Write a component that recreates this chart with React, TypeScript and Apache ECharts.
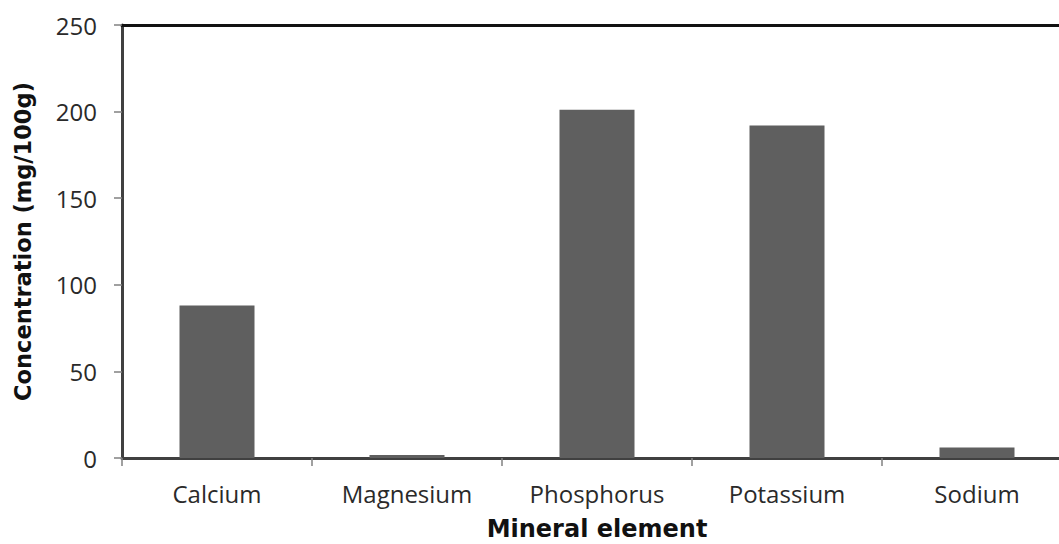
import React, { useEffect, useRef } from "react";
import * as echarts from "echarts";

const categories = ["Calcium", "Magnesium", "Phosphorus", "Potassium", "Sodium"];
const values = [88, 1.7, 201, 192, 6];
const yTicks = { min: 0, max: 250, interval: 50 };

const FONT = "'Open Sans', sans-serif";
const TITLE_FONT = "'DejaVu Sans', sans-serif";

export default function App() {
  const ref = useRef<HTMLDivElement>(null);
  useEffect(() => {
    if (!ref.current) return;
    const chart = echarts.init(ref.current, undefined, { renderer: "svg" });
    chart.setOption({
      animation: false,
      backgroundColor: "#ffffff",
      grid: { left: 122, top: 25, width: 950, height: 433 },
      xAxis: [
        {
          type: "category",
          data: categories,
          position: "bottom",
          axisLine: { lineStyle: { color: "#404040", width: 3 } },
          axisTick: { show: true, alignWithLabel: false, length: 8, lineStyle: { color: "#808080", width: 1.5 } },
          axisLabel: { color: "#2a2a2a", fontSize: 24, fontFamily: FONT, margin: 23 },
        },
        {
          type: "category",
          data: categories,
          position: "top",
          axisLine: { lineStyle: { color: "#111111", width: 3 } },
          axisTick: { show: false },
          axisLabel: { show: false },
        },
      ],
      yAxis: {
        type: "value",
        min: yTicks.min,
        max: yTicks.max,
        interval: yTicks.interval,
        name: "Concentration (mg/100g)",
        nameLocation: "middle",
        nameGap: 88,
        nameTextStyle: { color: "#111111", fontSize: 22.5, fontWeight: "bold", fontFamily: TITLE_FONT },
        axisLine: { show: true, lineStyle: { color: "#404040", width: 3 } },
        axisTick: { show: true, length: 8, lineStyle: { color: "#808080", width: 1.5 } },
        axisLabel: { color: "#2a2a2a", fontSize: 24, fontFamily: FONT, margin: 25 },
        splitLine: { show: false },
      },
      graphic: [
        {
          type: "text",
          x: 597,
          y: 529,
          style: {
            text: "Mineral element",
            textAlign: "center",
            textVerticalAlign: "middle",
            fontSize: 24,
            fontWeight: "bold",
            fontFamily: TITLE_FONT,
            fill: "#111111",
          },
        },
      ],
      series: [
        {
          type: "bar",
          data: values,
          barWidth: 75,
          itemStyle: { color: "#5f5f5f" },
        },
      ],
    });
    return () => chart.dispose();
  }, []);
  return (
    <div style={{ position: "fixed", left: 0, top: 0, width: 1059, height: 544, overflow: "hidden", background: "#fff" }}>
      <div ref={ref} style={{ width: 1080, height: 544 }} />
    </div>
  );
}
